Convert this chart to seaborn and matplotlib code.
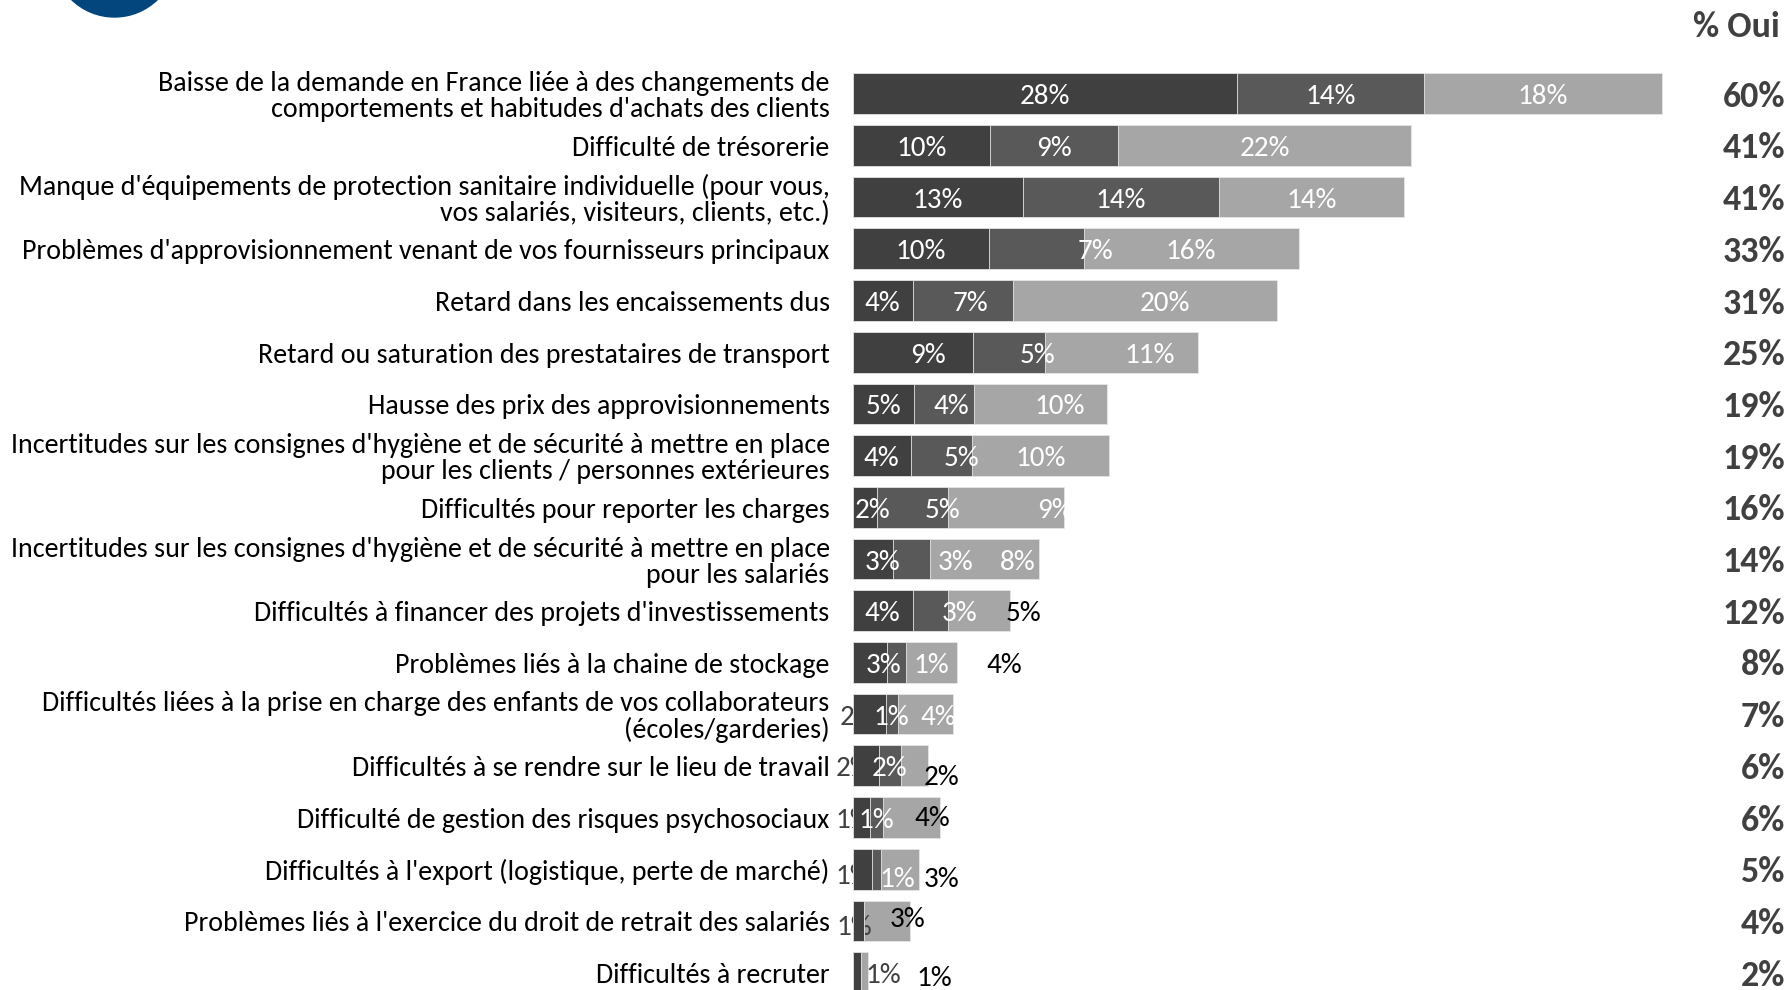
import matplotlib
matplotlib.use("Agg")
import matplotlib.pyplot as plt
from matplotlib.patches import Ellipse
import pandas as pd
import seaborn as sns

categories = [
    "Baisse de la demande en France liée à des changements de\ncomportements et habitudes d'achats des clients",
    "Difficulté de trésorerie",
    "Manque d'équipements de protection sanitaire individuelle (pour vous,\nvos salariés, visiteurs, clients, etc.)",
    "Problèmes d'approvisionnement venant de vos fournisseurs principaux",
    "Retard dans les encaissements dus",
    "Retard ou saturation des prestataires de transport",
    "Hausse des prix des approvisionnements",
    "Incertitudes sur les consignes d'hygiène et de sécurité à mettre en place\npour les clients / personnes extérieures",
    "Difficultés pour reporter les charges",
    "Incertitudes sur les consignes d'hygiène et de sécurité à mettre en place\npour les salariés",
    "Difficultés à financer des projets d'investissements",
    "Problèmes liés à la chaine de stockage",
    "Difficultés liées à la prise en charge des enfants de vos collaborateurs\n(écoles/garderies)",
    "Difficultés à se rendre sur le lieu de travail",
    "Difficulté de gestion des risques psychosociaux",
    "Difficultés à l'export (logistique, perte de marché)",
    "Problèmes liés à l'exercice du droit de retrait des salariés",
    "Difficultés à recruter",
]
# three shades of "oui" (dark -> light), in %
serie_1 = [28.45, 10.2, 12.65, 10.1, 4.45, 8.9, 4.55, 4.3, 1.8, 3.0, 4.45, 2.55, 2.45, 1.95, 1.25, 1.45, 0.85, 0.6]
serie_2 = [13.9, 9.45, 14.45, 7.0, 7.4, 5.35, 4.45, 4.55, 5.25, 2.7, 2.6, 1.4, 0.9, 1.6, 1.0, 0.65, 0.0, 0.0]
serie_3 = [17.6, 21.7, 13.75, 15.95, 19.55, 11.3, 9.85, 10.1, 8.6, 8.1, 4.6, 3.75, 4.05, 2.05, 4.25, 2.8, 3.4, 0.55]
total_oui = [60, 41, 41, 33, 31, 25, 19, 19, 16, 14, 12, 8, 7, 6, 6, 5, 4, 2]

DARK, MID, LIGHT = "#404040", "#595959", "#a6a6a6"
GREY, BLACK = "#404040", "black"

# excel moved some data labels around: (row, serie) -> (dx in %, dy in px, colour)
label_fix = {
    (3, 1): (4.4, 0, None),
    (4, 1): (0.6, 0, None), (4, 2): (1.5, 0, None),
    (5, 0): (1.1, 0, None), (5, 1): (2.1, 0, None), (5, 2): (2.1, 0, None),
    (6, 1): (0.5, 0, None), (6, 2): (1.4, 0, None),
    (7, 1): (1.5, 0, None),
    (8, 0): (0.6, 0, None), (8, 1): (2.2, 0, None), (8, 2): (3.6, 0, None),
    (9, 0): (0.7, 0, None), (9, 1): (3.3, 0, None), (9, 2): (2.5, 0, None),
    (10, 1): (2.2, 0, None), (10, 2): (3.3, 0, BLACK),
    (11, 0): (1.0, 0, None), (11, 1): (2.6, 0, None), (11, 2): (5.4, 0, BLACK),
    (12, 0): (-0.9, 0, GREY), (12, 2): (1.0, 0, None),
    (13, 0): (-0.9, 0, GREY), (13, 2): (2.0, 9, BLACK),
    (14, 0): (-0.6, 0, GREY), (14, 2): (1.5, -2, BLACK),
    (15, 0): (-0.7, 4, GREY), (15, 1): (1.5, 7, None), (15, 2): (3.1, 7, BLACK),
    (16, 0): (-0.3, 4, GREY), (16, 2): (1.5, -4, BLACK),
    (17, 0): (2.0, 0, GREY), (17, 2): (5.2, 3, BLACK),
}

sns.set_style("white")
plt.rcParams["font.family"] = ["Carlito", "Lato", "DejaVu Sans"]

fig = plt.figure(figsize=(17.92, 9.9), dpi=100)
ax = fig.add_axes([0, 0, 1, 1])

PX = 13.5      # px per %
ROW = 51.7     # px per row
X0, Y0 = 852.7, 93.7
TXT_DY = 3 / ROW   # text sits a little low in excel


def fit_size(s, target, **kw):
    t = fig.text(0, 0, s, fontsize=10, **kw)
    w = t.get_window_extent(renderer=fig.canvas.get_renderer()).width
    t.remove()
    return 10 * target / w


cat_fs = fit_size("Baisse de la demande en France liée à des changements de", 672)
val_fs = fit_size("28%", 50)
tot_fs = fit_size("60%", 63, fontweight="bold")

df = pd.DataFrame({"cat": categories, "s1": serie_1, "s2": serie_2, "s3": serie_3})
df["c2"] = df.s1 + df.s2
df["c3"] = df.c2 + df.s3

for col, colr, z in [("c3", LIGHT, 1), ("c2", MID, 2), ("s1", DARK, 2)]:
    sns.barplot(data=df, x=col, y="cat", orient="h", color=colr, saturation=1,
                width=0.787, errorbar=None, edgecolor="#e6e6e6", linewidth=0.6,
                zorder=z, ax=ax)

ax.set_xlim(-X0 / PX, (1792 - X0) / PX)
ax.set_ylim((990 - Y0) / ROW, -Y0 / ROW)
ax.axis("off")

for i, cat in enumerate(categories):
    ax.text(-23 / PX, i + TXT_DY, cat, ha="right", va="center", fontsize=cat_fs,
            color="black", linespacing=1.05)
    ax.text((1785 - X0) / PX, i + TXT_DY, f"{total_oui[i]}%", ha="right", va="center",
            fontsize=tot_fs, fontweight="bold", color="#404040")

    starts = [0, serie_1[i], serie_1[i] + serie_2[i]]
    vals = [serie_1[i], serie_2[i], serie_3[i]]
    for k in range(3):
        if round(vals[k]) == 0:
            continue
        dx, dy, c = label_fix.get((i, k), (0, 0, None))
        c = c or "white"
        ax.text(starts[k] + vals[k] / 2 + dx, i + TXT_DY + dy / ROW, f"{round(vals[k])}%",
                ha="center", va="center", fontsize=val_fs, color=c,
                zorder=1.5 if c == GREY else 3)

ax.text((1780 - X0) / PX, (27 - Y0) / ROW, "% Oui", ha="right", va="center",
        fontsize=tot_fs, fontweight="bold", color="#404040")

# logo, mostly cut off at the top
fig.patches.append(Ellipse((114.5 / 1792, 1 + 44.6 / 990), 2 * 61.6 / 1792, 2 * 61.6 / 990,
                           transform=fig.transFigure, color="#03467d"))

fig.savefig("out.png", dpi=100)
